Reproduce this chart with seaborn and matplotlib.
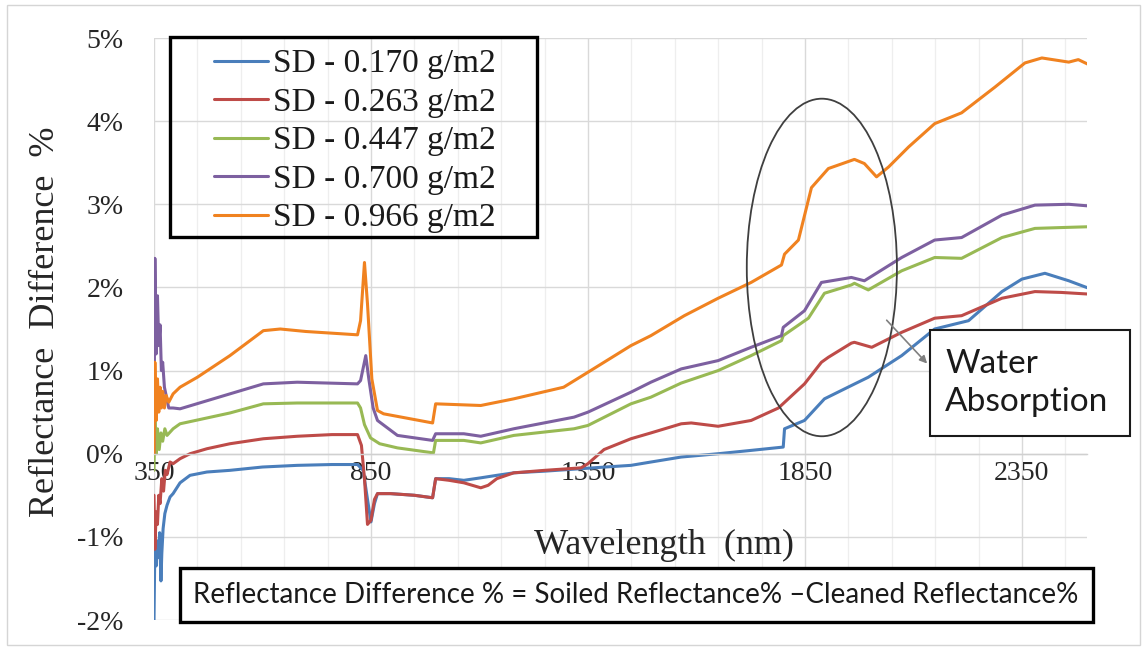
import numpy as np
import pandas as pd
import matplotlib
matplotlib.use("Agg")
import matplotlib.pyplot as plt
import seaborn as sns
from matplotlib.patches import Ellipse, Rectangle
from matplotlib.ticker import FixedLocator, FuncFormatter

# ---- spectra: reflectance difference (%) vs wavelength (nm) ----
wl_170 = [350, 352, 355, 358, 360, 363, 366, 368, 371, 375, 380, 387, 394, 410, 433, 472, 525, 600,
          680, 760, 819, 832, 842, 850, 858, 865, 895, 950, 992, 999, 1030, 1064, 1103, 1140, 1179,
          1250, 1334, 1390, 1449, 1495, 1565, 1650, 1726, 1800, 1803, 1849, 1895, 1957, 1996, 2073,
          2149, 2227, 2304, 2350, 2403, 2458, 2504]
sd_170 = [-2.0, -1.1, -1.35, -1.05, -1.25, -0.95, -1.53, -1.2, -0.9, -0.72, -0.62, -0.52, -0.48,
          -0.35, -0.26, -0.22, -0.2, -0.16, -0.14, -0.13, -0.13, -0.2, -0.55, -0.82, -0.6, -0.48,
          -0.48, -0.5, -0.53, -0.3, -0.3, -0.32, -0.29, -0.26, -0.23, -0.21, -0.18, -0.16, -0.14,
          -0.1, -0.04, 0.0, 0.04, 0.08, 0.3, 0.4, 0.66, 0.82, 0.92, 1.18, 1.5, 1.6, 1.95, 2.1, 2.17,
          2.08, 1.99]

wl_263 = [350, 352, 355, 358, 361, 364, 368, 372, 376, 380, 387, 394, 410, 433, 472, 525, 602, 680,
          760, 819, 828, 835, 842, 850, 858, 865, 895, 950, 992, 999, 1030, 1064, 1103, 1120, 1140,
          1179, 1250, 1334, 1350, 1387, 1449, 1495, 1565, 1588, 1650, 1726, 1789, 1849, 1888, 1904,
          1957, 1964, 2004, 2073, 2149, 2211, 2304, 2380, 2440, 2504]
sd_263 = [-0.5, -1.15, -0.7, -0.85, -0.5, -0.6, -0.3, -0.45, -0.2, -0.25, -0.1, -0.12, -0.06, 0.0,
          0.06, 0.12, 0.18, 0.21, 0.23, 0.23, 0.1, -0.3, -0.85, -0.8, -0.55, -0.48, -0.48, -0.5,
          -0.53, -0.3, -0.32, -0.35, -0.41, -0.38, -0.3, -0.23, -0.2, -0.17, -0.12, 0.05, 0.18, 0.25,
          0.36, 0.37, 0.33, 0.4, 0.55, 0.84, 1.1, 1.16, 1.33, 1.34, 1.28, 1.46, 1.63, 1.66, 1.87,
          1.95, 1.94, 1.92]

wl_447 = [350, 352, 355, 358, 362, 366, 370, 375, 380, 394, 410, 472, 525, 602, 680, 819, 826, 835,
          849, 870, 911, 994, 999, 1064, 1103, 1179, 1318, 1350, 1449, 1495, 1565, 1650, 1726, 1796,
          1800, 1858, 1895, 1957, 1964, 1996, 2073, 2149, 2211, 2304, 2380, 2440, 2504]
sd_447 = [-0.2, 0.45, 0.0, 0.3, 0.05, 0.25, 0.15, 0.3, 0.22, 0.3, 0.36, 0.43, 0.49, 0.6, 0.61, 0.61,
          0.55, 0.35, 0.19, 0.12, 0.07, 0.01, 0.16, 0.16, 0.13, 0.22, 0.3, 0.34, 0.6, 0.68, 0.85,
          1.0, 1.18, 1.36, 1.42, 1.63, 1.93, 2.03, 2.05, 1.97, 2.2, 2.36, 2.35, 2.6, 2.71, 2.72, 2.73]

wl_700 = [350, 352, 355, 358, 361, 364, 367, 370, 374, 378, 384, 394, 410, 525, 602, 680, 819, 826,
          838, 845, 855, 865, 911, 992, 999, 1064, 1103, 1179, 1318, 1350, 1449, 1495, 1565, 1650,
          1726, 1796, 1800, 1849, 1888, 1957, 1987, 2073, 2149, 2211, 2304, 2380, 2458, 2504]
sd_700 = [0.0, 2.35, 1.2, 1.9, 1.3, 1.55, 1.0, 1.1, 0.8, 0.7, 0.55, 0.55, 0.54, 0.72, 0.84, 0.86,
          0.84, 0.88, 1.18, 0.9, 0.55, 0.4, 0.22, 0.16, 0.24, 0.24, 0.21, 0.3, 0.44, 0.5, 0.74, 0.86,
          1.02, 1.12, 1.28, 1.42, 1.52, 1.72, 2.06, 2.12, 2.08, 2.36, 2.57, 2.6, 2.87, 2.99, 3.0, 2.98]

wl_966 = [350, 352, 355, 358, 361, 364, 367, 370, 374, 378, 384, 394, 410, 450, 525, 602, 641, 700,
          819, 826, 835, 842, 852, 865, 879, 992, 999, 1103, 1179, 1294, 1350, 1449, 1495, 1572,
          1650, 1726, 1796, 1803, 1835, 1865, 1904, 1964, 1987, 2015, 2043, 2089, 2149, 2211, 2288,
          2357, 2396, 2458, 2480, 2504]
sd_966 = [0.0, 1.1, 0.4, 0.9, 0.5, 0.8, 0.55, 0.75, 0.55, 0.7, 0.62, 0.72, 0.8, 0.92, 1.18, 1.48,
          1.5, 1.47, 1.43, 1.6, 2.3, 1.8, 0.9, 0.52, 0.48, 0.37, 0.6, 0.58, 0.66, 0.8, 0.98, 1.3,
          1.42, 1.66, 1.87, 2.06, 2.27, 2.4, 2.57, 3.2, 3.43, 3.54, 3.49, 3.33, 3.45, 3.69, 3.97,
          4.1, 4.41, 4.7, 4.76, 4.71, 4.74, 4.68]

series_labels = ["SD - 0.170 g/m2", "SD - 0.263 g/m2", "SD - 0.447 g/m2",
                 "SD - 0.700 g/m2", "SD - 0.966 g/m2"]
series_wl = [wl_170, wl_263, wl_447, wl_700, wl_966]
series_sd = [sd_170, sd_263, sd_447, sd_700, sd_966]
line_colors = ["#4A7EBB", "#BE4B48", "#98B954", "#7D60A0", "#F08220"]

x_major = [350, 850, 1350, 1850, 2350]
y_ticks = [-2, -1, 0, 1, 2, 3, 4, 5]

df = pd.concat(
    [pd.DataFrame({"Wavelength": w, "Diff": v, "Series": lab})
     for lab, w, v in zip(series_labels, series_wl, series_sd)],
    ignore_index=True,
)

sns.set_theme(style="white")
plt.rcParams["font.family"] = ["Liberation Serif", "DejaVu Serif"]
plt.rcParams["axes.unicode_minus"] = False

W, H = 1145, 651
fig = plt.figure(figsize=(W / 100, H / 100), dpi=100)
fig.patch.set_facecolor("white")


def fx(px):
    return px / W


def fy(py):
    return 1 - py / H


ax = fig.add_axes([fx(154), fy(620), fx(1087) - fx(154), fy(38) - fy(620)])

sns.lineplot(data=df, x="Wavelength", y="Diff", hue="Series", hue_order=series_labels,
             palette=line_colors, estimator=None, sort=False, linewidth=2.2, ax=ax)

ax.set_xlim(350, 2500)
ax.set_ylim(-2, 5)
ax.xaxis.set_major_locator(FixedLocator(x_major))
ax.xaxis.set_minor_locator(FixedLocator([v for v in range(450, 2500, 100) if v not in x_major]))
ax.yaxis.set_major_locator(FixedLocator(y_ticks))
ax.yaxis.set_major_formatter(FuncFormatter(lambda v, p: f"{v:.0f}%"))

ax.set_axisbelow(True)
ax.grid(which="major", color="#D9D9D9", linewidth=1.0)
ax.grid(which="minor", axis="x", color="#EEEEEE", linewidth=0.9)

for s in ["top", "right", "left"]:
    ax.spines[s].set_visible(False)
ax.spines["bottom"].set_position(("data", 0))
ax.spines["bottom"].set_color("#D0D0D0")
ax.spines["bottom"].set_linewidth(1.0)

ax.tick_params(axis="x", which="both", length=0, pad=5, labelsize=20, labelcolor="#262626")
ax.tick_params(axis="y", length=0, pad=22, labelsize=20, labelcolor="#262626")
ax.set_xlabel("")
ax.set_ylabel("")

# axis titles
fig.text(fx(46), fy(322), "Reflectance  Difference  %", rotation=90, ha="center", va="center",
         fontsize=26, color="#262626")
fig.text(fx(664), fy(545), "Wavelength  (nm)", ha="center", va="center", fontsize=26,
         color="#262626")

# legend
ax.get_legend().remove()
handles = [plt.Line2D([], [], color=c, linewidth=2.2) for c in line_colors]
fig.legend(handles, series_labels, loc="center left",
           bbox_to_anchor=(fx(214), fy(141)), bbox_transform=fig.transFigure,
           frameon=False, fontsize=24, handlelength=1.62, handletextpad=0.15,
           labelspacing=0.24, borderpad=0, borderaxespad=0, labelcolor="#1A1A1A")
fig.patches.append(Rectangle((fx(170), fy(237)), fx(537) - fx(170), fy(37) - fy(237),
                             transform=fig.transFigure, fill=False, edgecolor="black",
                             linewidth=2.4, zorder=5))

# water absorption band highlight
ax.add_patch(Ellipse((1889, 2.24), 346, 4.06, fill=False, edgecolor="#3F3F3F", linewidth=1.3,
                     zorder=6))
ax.annotate("", xy=(2136, 1.06), xytext=(2034, 1.63),
            arrowprops=dict(arrowstyle="-|>", color="#808080", lw=1.2, mutation_scale=11),
            zorder=6)
fig.patches.append(Rectangle((fx(930), fy(436)), fx(1130) - fx(930), fy(330) - fy(436),
                             transform=fig.transFigure, facecolor="white", edgecolor="#1A1A1A",
                             linewidth=1.5, zorder=5))
fig.text(fx(945), fy(383), "Water\nAbsorption", ha="left", va="center", fontsize=24,
         family=["Lato", "DejaVu Sans"], linespacing=1.35, color="#1A1A1A", zorder=7)

# definition box
fig.patches.append(Rectangle((fx(180), fy(622)), fx(1093) - fx(180), fy(568) - fy(622),
                             transform=fig.transFigure, facecolor="white", edgecolor="black",
                             linewidth=2.4, zorder=5))
fig.text(fx(636), fy(595),
         "Reflectance Difference % = Soiled Reflectance% \u2013Cleaned Reflectance%",
         ha="center", va="center", fontsize=20, family=["Lato", "DejaVu Sans"],
         color="#1A1A1A", zorder=7)

# outer frame
fig.patches.append(Rectangle((fx(7), fy(645)), fx(1140) - fx(7), fy(5) - fy(645),
                             transform=fig.transFigure, fill=False, edgecolor="#D5D5D5",
                             linewidth=1.0, zorder=1))

fig.savefig("out.png", dpi=100)
